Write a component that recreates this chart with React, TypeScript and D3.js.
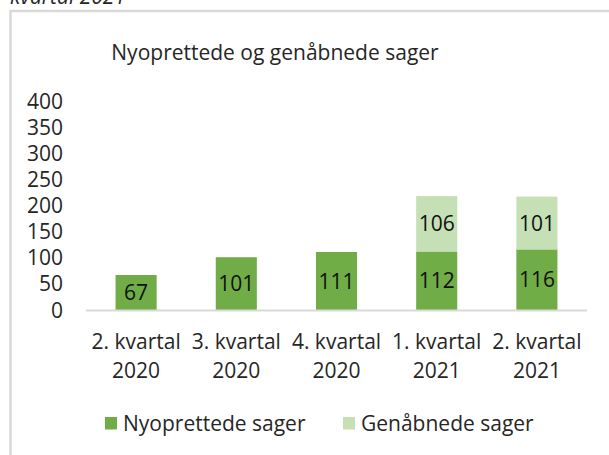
import React, { useRef, useEffect } from 'react';
import * as d3 from 'd3';

const quarters = ["2. kvartal|2020", "3. kvartal|2020", "4. kvartal|2020", "1. kvartal|2021", "2. kvartal|2021"];
const nyoprettede = [67, 101, 111, 112, 116];
const genaabnede = [0, 0, 0, 106, 101];
const yTicks = [0, 50, 100, 150, 200, 250, 300, 350, 400];
const seriesNames = ["Nyoprettede sager", "Genåbnede sager"];
const colors = ["#70AD47", "#C5E0B4"];

const W = 609;
const H = 455;
const FONT = "'Open Sans', sans-serif";
const TXT = "#262626";
const FS = 21;

export default function App() {
  const ref = useRef<SVGSVGElement>(null);

  useEffect(() => {
    const svg = d3.select(ref.current);
    svg.selectAll("*").remove();

    // caption cut off at top of page
    svg.append("text")
      .attr("x", 10)
      .attr("y", 4)
      .attr("font-family", FONT)
      .attr("font-style", "italic")
      .attr("font-size", 21)
      .attr("fill", TXT)
      .text("kvartal 2021");

    // chart frame
    svg.append("path")
      .attr("d", `M10.5,${H} L10.5,11 L${W},11`)
      .attr("fill", "none")
      .attr("stroke", "#d9d9d9")
      .attr("stroke-width", 2.5);

    svg.append("text")
      .attr("x", 275)
      .attr("y", 60)
      .attr("text-anchor", "middle")
      .attr("font-family", FONT)
      .attr("font-size", 21)
      .attr("fill", TXT)
      .text("Nyoprettede og genåbnede sager");

    const x = d3.scaleBand().domain(quarters).range([86, 587]).paddingInner(0.59).paddingOuter(0.295);
    const y = d3.scaleLinear().domain([0, 400]).range([310, 101]);

    const rows = quarters.map((q, i) => ({ q, a: nyoprettede[i], b: genaabnede[i] }));
    const stack = d3.stack<any>().keys(["a", "b"]);
    const series = stack(rows);

    const g = svg.append("g");
    series.forEach((s, si) => {
      const shown = s.filter(d => d[1] - d[0] > 0);
      g.selectAll(null)
        .data(shown)
        .enter()
        .append("rect")
        .attr("x", d => x(d.data.q)!)
        .attr("width", x.bandwidth())
        .attr("y", d => y(d[1]))
        .attr("height", d => y(d[0]) - y(d[1]))
        .attr("fill", colors[si]);

      g.selectAll(null)
        .data(shown)
        .enter()
        .append("text")
        .attr("x", d => x(d.data.q)! + x.bandwidth() / 2)
        .attr("y", d => (y(d[0]) + y(d[1])) / 2)
        .attr("dy", "0.36em")
        .attr("text-anchor", "middle")
        .attr("font-family", FONT)
        .attr("font-size", FS)
        .attr("fill", "#111")
        .text(d => d[1] - d[0]);
    });

    // baseline
    svg.append("line")
      .attr("x1", 86).attr("x2", 587)
      .attr("y1", y(0) + 0.5).attr("y2", y(0) + 0.5)
      .attr("stroke", "#d9d9d9")
      .attr("stroke-width", 2);

    // y tick labels
    svg.append("g")
      .selectAll("text")
      .data(yTicks)
      .enter()
      .append("text")
      .attr("x", 63)
      .attr("y", d => y(d))
      .attr("dy", "0.36em")
      .attr("text-anchor", "end")
      .attr("font-family", FONT)
      .attr("font-size", FS)
      .attr("fill", TXT)
      .text(d => d);

    // x labels, two lines each
    const xl = svg.append("g")
      .selectAll("text")
      .data(quarters)
      .enter()
      .append("text")
      .attr("text-anchor", "middle")
      .attr("font-family", FONT)
      .attr("font-size", FS)
      .attr("fill", TXT);
    xl.append("tspan")
      .attr("x", d => x(d)! + x.bandwidth() / 2)
      .attr("y", 349)
      .text(d => d.split("|")[0]);
    xl.append("tspan")
      .attr("x", d => x(d)! + x.bandwidth() / 2)
      .attr("y", 378)
      .text(d => d.split("|")[1]);

    // legend
    const legendX = [105, 343];
    seriesNames.forEach((name, i) => {
      svg.append("rect")
        .attr("x", legendX[i])
        .attr("y", 417)
        .attr("width", 12)
        .attr("height", 12.5)
        .attr("fill", colors[i]);
      svg.append("text")
        .attr("x", legendX[i] + 18)
        .attr("y", 423)
        .attr("dy", "0.36em")
        .attr("font-family", FONT)
        .attr("font-size", FS)
        .attr("fill", TXT)
        .text(name);
    });
  }, []);

  return <svg ref={ref} width={W} height={H} style={{ position: "absolute", left: 0, top: 0, background: "#fff" }}></svg>;
}
